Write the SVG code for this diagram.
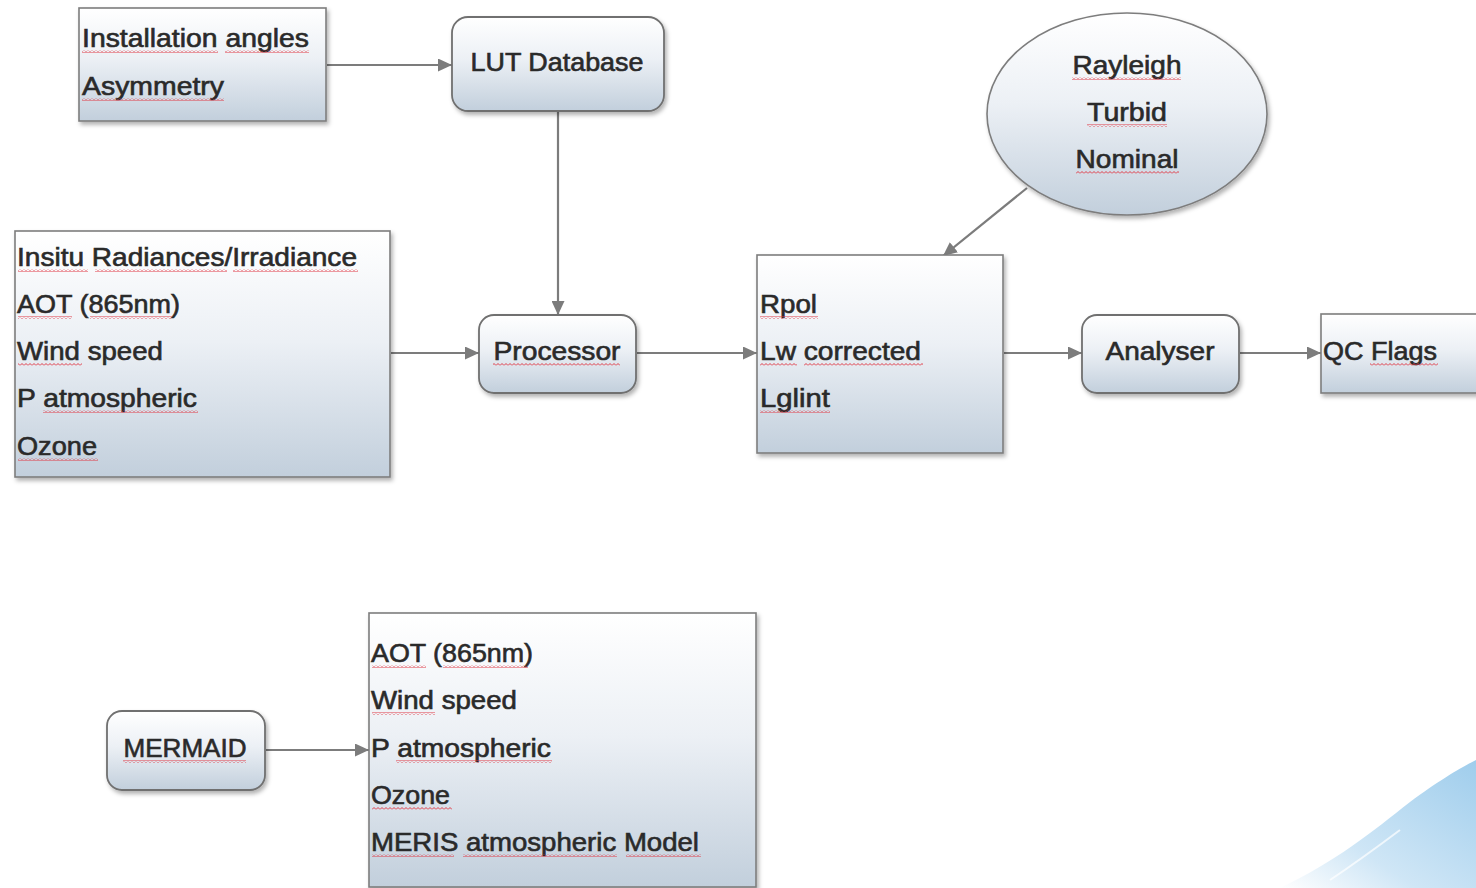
<svg xmlns="http://www.w3.org/2000/svg" width="1476" height="888" viewBox="0 0 1476 888">
<style>
.box{fill:url(#g);stroke:#7d7d7d;stroke-width:1.6;filter:url(#sh)}
.rbox{fill:url(#g);stroke:#707070;stroke-width:1.8;filter:url(#sh)}
.t{font-family:"Liberation Sans",Arial,sans-serif;font-size:25px;fill:#2a2a2a;stroke:#2a2a2a;stroke-width:0.6}
.c{text-anchor:middle}
.sq{fill:url(#wave)}
.con{stroke:#7c7c7c;stroke-width:2.2;fill:none;marker-end:url(#ah)}
</style>
<defs>
<linearGradient id="g" x1="0" y1="0" x2="0" y2="1">
<stop offset="0" stop-color="#ffffff"/>
<stop offset="0.45" stop-color="#ecf0f5"/>
<stop offset="1" stop-color="#c2cfdc"/>
</linearGradient>
<linearGradient id="sea" x1="0" y1="1" x2="1" y2="0">
<stop offset="0" stop-color="#ffffff"/>
<stop offset="0.35" stop-color="#cfe6f6"/>
<stop offset="1" stop-color="#9fcdec"/>
</linearGradient>
<filter id="sh" x="-10%" y="-10%" width="125%" height="130%">
<feDropShadow dx="2" dy="3" stdDeviation="2" flood-color="#000" flood-opacity="0.3"/>
</filter>
<pattern id="wave" width="4" height="3" patternUnits="userSpaceOnUse">
<polyline points="0,2.5 2,0.5 4,2.5" fill="none" stroke="#e03a46" stroke-width="1"/>
</pattern>
<marker id="ah" markerWidth="14" markerHeight="13" refX="14" refY="6.5" orient="auto" markerUnits="userSpaceOnUse">
<path d="M0,0 L14,6.5 L0,13 z" fill="#7c7c7c"/>
</marker>
</defs>
<rect width="1476" height="888" fill="#ffffff"/>
<path d="M1280 888 C1335 862 1372 832 1410 802 C1440 780 1460 768 1476 760 L1476 888 Z" fill="url(#sea)"/>
<path d="M1330 880 C1360 860 1380 845 1400 830" stroke="#ffffff" stroke-width="2" fill="none" opacity="0.7"/>

<g id="connectors">
<line class="con" x1="327" y1="65" x2="452" y2="65"/>
<line class="con" x1="558" y1="112" x2="558" y2="315"/>
<line class="con" x1="391" y1="353" x2="479" y2="353"/>
<line class="con" x1="637" y1="353" x2="757" y2="353"/>
<line class="con" x1="1027" y1="188" x2="943" y2="256"/>
<line class="con" x1="1004" y1="353" x2="1082" y2="353"/>
<line class="con" x1="1240" y1="353" x2="1321" y2="353"/>
<line class="con" x1="266" y1="750" x2="369" y2="750"/>
</g>

<g id="node-install">
<rect class="box" x="79" y="8" width="247" height="113"/>
<text class="t" x="82" y="47" textLength="227" lengthAdjust="spacingAndGlyphs">Installation angles</text>
<text class="t" x="82" y="95" textLength="142" lengthAdjust="spacingAndGlyphs">Asymmetry</text>
<rect class="sq" x="82" y="50" width="136" height="3"/>
<rect class="sq" x="225" y="50" width="84" height="3"/>
<rect class="sq" x="82" y="98" width="142" height="3"/>
</g>

<g id="node-lut">
<rect class="rbox" x="452" y="17" width="212" height="94" rx="16"/>
<text class="t c" x="557" y="71" textLength="173" lengthAdjust="spacingAndGlyphs">LUT Database</text>
</g>

<g id="node-models">
<ellipse class="box" cx="1127" cy="114" rx="140" ry="101"/>
<text class="t c" x="1127" y="74" textLength="109" lengthAdjust="spacingAndGlyphs">Rayleigh</text>
<text class="t c" x="1127" y="121" textLength="80" lengthAdjust="spacingAndGlyphs">Turbid</text>
<text class="t c" x="1127" y="168" textLength="103" lengthAdjust="spacingAndGlyphs">Nominal</text>
<rect class="sq" x="1072" y="77" width="109" height="3"/>
<rect class="sq" x="1087" y="124" width="80" height="3"/>
<rect class="sq" x="1076" y="171" width="103" height="3"/>
</g>

<g id="node-insitu">
<rect class="box" x="15" y="231" width="375" height="246"/>
<text class="t" x="17" y="266" textLength="340" lengthAdjust="spacingAndGlyphs">Insitu Radiances/Irradiance</text>
<text class="t" x="17" y="313" textLength="163" lengthAdjust="spacingAndGlyphs">AOT (865nm)</text>
<text class="t" x="17" y="360" textLength="146" lengthAdjust="spacingAndGlyphs">Wind speed</text>
<text class="t" x="17" y="407" textLength="180" lengthAdjust="spacingAndGlyphs">P atmospheric</text>
<text class="t" x="17" y="455" textLength="80" lengthAdjust="spacingAndGlyphs">Ozone</text>
<rect class="sq" x="18" y="269" width="70" height="3"/>
<rect class="sq" x="95" y="269" width="132" height="3"/>
<rect class="sq" x="233" y="269" width="125" height="3"/>
<rect class="sq" x="18" y="316" width="54" height="3"/>
<rect class="sq" x="90" y="316" width="82" height="3"/>
<rect class="sq" x="18" y="363" width="64" height="3"/>
<rect class="sq" x="43" y="410" width="155" height="3"/>
<rect class="sq" x="18" y="458" width="80" height="3"/>
</g>

<g id="node-processor">
<rect class="rbox" x="479" y="315" width="157" height="78" rx="15"/>
<text class="t c" x="557" y="360" textLength="127" lengthAdjust="spacingAndGlyphs">Processor</text>
<rect class="sq" x="493" y="363" width="127" height="3"/>
</g>

<g id="node-rpol">
<rect class="box" x="757" y="255" width="246" height="198"/>
<text class="t" x="760" y="313" textLength="57" lengthAdjust="spacingAndGlyphs">Rpol</text>
<text class="t" x="760" y="360" textLength="161" lengthAdjust="spacingAndGlyphs">Lw corrected</text>
<text class="t" x="760" y="407" textLength="70" lengthAdjust="spacingAndGlyphs">Lglint</text>
<rect class="sq" x="760" y="316" width="58" height="3"/>
<rect class="sq" x="760" y="363" width="37" height="3"/>
<rect class="sq" x="804" y="363" width="119" height="3"/>
<rect class="sq" x="760" y="410" width="70" height="3"/>
</g>

<g id="node-analyser">
<rect class="rbox" x="1082" y="315" width="157" height="78" rx="15"/>
<text class="t c" x="1160" y="360" textLength="109" lengthAdjust="spacingAndGlyphs">Analyser</text>
</g>

<g id="node-qc">
<rect class="box" x="1321" y="314" width="170" height="79"/>
<text class="t" x="1323" y="360" textLength="114" lengthAdjust="spacingAndGlyphs">QC Flags</text>
<rect class="sq" x="1370" y="363" width="68" height="3"/>
</g>

<g id="node-mermaid">
<rect class="rbox" x="107" y="711" width="158" height="79" rx="15"/>
<text class="t c" x="185" y="757" textLength="123" lengthAdjust="spacingAndGlyphs">MERMAID</text>
<rect class="sq" x="123" y="760" width="123" height="3"/>
</g>

<g id="node-meris">
<rect class="box" x="369" y="613" width="387" height="274"/>
<text class="t" x="371" y="662" textLength="162" lengthAdjust="spacingAndGlyphs">AOT (865nm)</text>
<text class="t" x="371" y="709" textLength="146" lengthAdjust="spacingAndGlyphs">Wind speed</text>
<text class="t" x="371" y="757" textLength="180" lengthAdjust="spacingAndGlyphs">P atmospheric</text>
<text class="t" x="371" y="804" textLength="79" lengthAdjust="spacingAndGlyphs">Ozone</text>
<text class="t" x="371" y="851" textLength="328" lengthAdjust="spacingAndGlyphs">MERIS atmospheric Model</text>
<rect class="sq" x="372" y="665" width="54" height="3"/>
<rect class="sq" x="443" y="665" width="85" height="3"/>
<rect class="sq" x="372" y="712" width="63" height="3"/>
<rect class="sq" x="396" y="760" width="156" height="3"/>
<rect class="sq" x="372" y="807" width="80" height="3"/>
<rect class="sq" x="372" y="854" width="82" height="3"/>
<rect class="sq" x="463" y="854" width="154" height="3"/>
<rect class="sq" x="626" y="854" width="75" height="3"/>
</g>
</svg>
